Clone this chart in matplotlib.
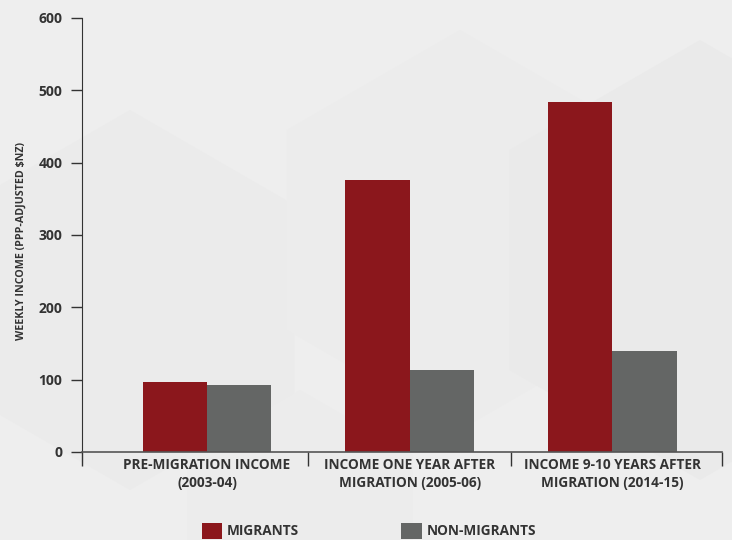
import numpy as np
import matplotlib.pyplot as plt
from matplotlib.patches import Polygon

categories = ["PRE-MIGRATION INCOME\n(2003-04)",
              "INCOME ONE YEAR AFTER\nMIGRATION (2005-06)",
              "INCOME 9-10 YEARS AFTER\nMIGRATION (2014-15)"]
migrants = [97, 376, 484]
non_migrants = [92, 113, 139]
yticks = [0, 100, 200, 300, 400, 500, 600]

red = "#8b171c"
grey = "#646665"
txt = "#333333"

plt.rcParams['font.family'] = ['Open Sans', 'DejaVu Sans']
plt.rcParams['font.weight'] = 'bold'

fig = plt.figure(figsize=(7.32, 5.4), dpi=100, facecolor="#eeeeee")

# faint hexagon shapes in the background
bg = fig.add_axes([0, 0, 1, 1], zorder=-1)
bg.set_xlim(0, 732)
bg.set_ylim(540, 0)
bg.axis('off')
for cx, cy, r, c in [(130, 300, 190, "#ebebeb"), (460, 230, 200, "#ececec"),
                     (700, 260, 220, "#eaeaea"), (300, 520, 130, "#ececec")]:
    ang = np.deg2rad(np.arange(30, 390, 60))
    pts = np.c_[cx + r * np.cos(ang), cy + r * np.sin(ang)]
    bg.add_patch(Polygon(pts, closed=True, facecolor=c, edgecolor="none"))

ax = fig.add_axes([0.112, 0.163, 0.874, 0.804])
ax.set_facecolor("none")

x = np.arange(len(categories))
w = 0.317
b1 = ax.bar(x - w / 2, migrants, w, color=red, label="MIGRANTS")
b2 = ax.bar(x + w / 2, non_migrants, w, color=grey, label="NON-MIGRANTS")

left, right = -0.617, 2.54
ax.set_xlim(left, right)
ax.set_ylim(0, 600)
ax.set_yticks(yticks)
ax.set_xticks(x)
ax.set_xticklabels(categories, fontsize=9.8, color=txt, linespacing=1.45)
ax.set_xticks([left, 0.5, 1.5, right], minor=True)
ax.tick_params(axis='x', which='major', length=0, pad=4)
ax.tick_params(axis='x', which='minor', length=10, color="#333333", width=1)
ax.tick_params(axis='y', length=8, width=1, color="#333333", pad=6,
               labelsize=10, labelcolor=txt)

for s in ['top', 'right']:
    ax.spines[s].set_visible(False)
ax.spines['left'].set_color("#333333")
ax.spines['bottom'].set_color("#555555")
ax.spines['bottom'].set_linewidth(1.2)

ax.set_ylabel("WEEKLY INCOME (PPP-ADJUSTED $NZ)", fontsize=7.7, color=txt,
              fontweight='bold')
ax.yaxis.set_label_coords(-0.086, 0.486)

fig.legend(handles=[b1, b2], loc='center', bbox_to_anchor=(0.504, 0.017),
           ncol=2, frameon=False, fontsize=9.8, handlelength=1.5,
           handleheight=1.5, handletextpad=0.35, columnspacing=7.5,
           labelcolor=txt)

fig.savefig("out.png", dpi=100, facecolor=fig.get_facecolor())
